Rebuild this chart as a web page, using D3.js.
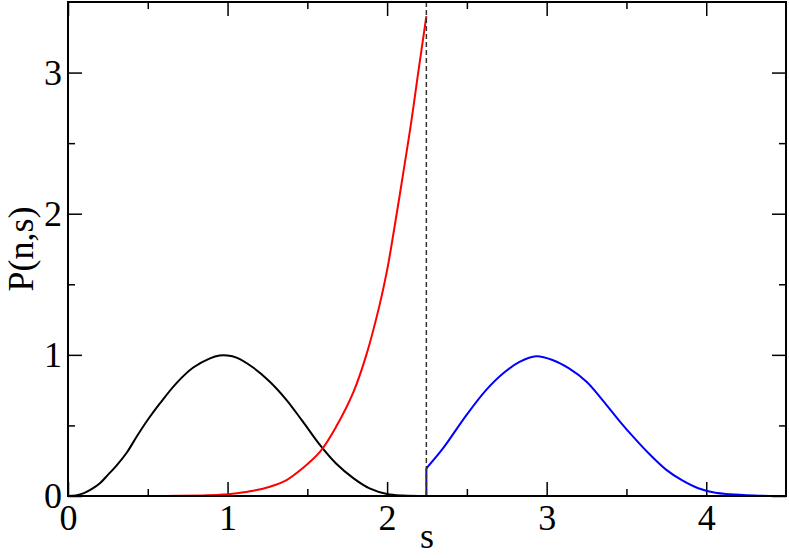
<!DOCTYPE html>
<html>
<head>
<meta charset="utf-8">
<script src="https://cdn.jsdelivr.net/npm/d3@7"></script>
<style>
  body { margin: 0; background: #fff; }
  svg text { font-family: "Liberation Serif", "Times New Roman", serif; }
</style>
</head>
<body>
<div id="chart"></div>
<script>
// values
var blackS = [0, 0.05, 0.1, 0.15, 0.2, 0.25, 0.3, 0.37, 0.43, 0.5, 0.576, 0.68, 0.785, 0.89, 0.95, 1.0, 1.056, 1.16, 1.265, 1.37, 1.47, 1.58, 1.68, 1.79, 1.89, 2.0, 2.1, 2.25];
var blackP = [0, 0.004, 0.02, 0.05, 0.09, 0.15, 0.21, 0.31, 0.42, 0.54, 0.656, 0.80, 0.91, 0.975, 0.995, 0.995, 0.98, 0.91, 0.81, 0.68, 0.53, 0.36, 0.23, 0.125, 0.054, 0.014, 0.003, 0];

var redS = [0.5, 0.7, 0.85, 0.95, 1.06, 1.16, 1.265, 1.37, 1.47, 1.58, 1.68, 1.79, 1.87, 1.95, 2.0, 2.06, 2.1, 2.15, 2.19, 2.246];
var redP = [0, 0.001, 0.004, 0.008, 0.02, 0.037, 0.066, 0.113, 0.196, 0.314, 0.49, 0.74, 1.0, 1.34, 1.6, 2.0, 2.28, 2.64, 2.96, 3.40];

var blueS = [2.246, 2.246, 2.35, 2.497, 2.62, 2.726, 2.83, 2.935, 3.04, 3.14, 3.25, 3.35, 3.45, 3.55, 3.65, 3.75, 3.85, 3.95, 4.05, 4.15, 4.3, 4.4];
var blueP = [0, 0.196, 0.337, 0.573, 0.75, 0.868, 0.95, 0.99, 0.962, 0.904, 0.81, 0.68, 0.54, 0.41, 0.29, 0.185, 0.11, 0.055, 0.025, 0.012, 0.003, 0];

var cutS = 2.246;
var xMajor = [0, 1, 2, 3, 4], xMinor = [0.5, 1.5, 2.5, 3.5];
var yMajor = [0, 1, 2, 3], yMinor = [0.5, 1.5, 2.5];

var margin = {top: 2, right: 3, bottom: 62, left: 68},
    width = 789 - margin.left - margin.right,
    height = 558 - margin.top - margin.bottom;

var x = d3.scaleLinear().domain([0, 4.5]).range([0, width]);
var y = d3.scaleLinear().domain([0, 3.5]).range([height, 0]);

var svg = d3.select("#chart").append("svg")
    .attr("width", 789)
    .attr("height", 558)
  .append("g")
    .attr("transform", "translate(" + margin.left + "," + margin.top + ")");

function styleAxis(g, labels) {
  g.select(".domain").remove();
  g.selectAll(".tick line").attr("stroke", "#000").attr("stroke-width", 1.5);
  if (labels) g.selectAll(".tick text").attr("font-size", 36).attr("fill", "#000");
  else g.selectAll(".tick text").remove();
}

// bottom / left with labels
svg.append("g").attr("transform", "translate(0," + height + ")")
  .call(d3.axisBottom(x).tickValues(xMajor).tickSize(-14).tickPadding(8).tickFormat(d3.format("d")))
  .call(styleAxis, true);
svg.append("g")
  .call(d3.axisLeft(y).tickValues(yMajor).tickSize(-14).tickPadding(6).tickFormat(d3.format("d")))
  .call(styleAxis, true);
// minor ticks
svg.append("g").attr("transform", "translate(0," + height + ")")
  .call(d3.axisBottom(x).tickValues(xMinor).tickSize(-7)).call(styleAxis, false);
svg.append("g")
  .call(d3.axisLeft(y).tickValues(yMinor).tickSize(-7)).call(styleAxis, false);
// top / right mirrors
svg.append("g").call(d3.axisTop(x).tickValues(xMajor).tickSize(-14)).call(styleAxis, false);
svg.append("g").call(d3.axisTop(x).tickValues(xMinor).tickSize(-7)).call(styleAxis, false);
svg.append("g").attr("transform", "translate(" + width + ",0)")
  .call(d3.axisRight(y).tickValues(yMajor).tickSize(-14)).call(styleAxis, false);
svg.append("g").attr("transform", "translate(" + width + ",0)")
  .call(d3.axisRight(y).tickValues(yMinor).tickSize(-7)).call(styleAxis, false);

var line = d3.line()
    .x(function(d) { return x(d[0]); })
    .y(function(d) { return y(d[1]); })
    .curve(d3.curveCatmullRom.alpha(0.5));

function pairs(s, p) { return s.map(function(v, i) { return [v, p[i]]; }); }

svg.append("path").datum(pairs(blackS, blackP))
  .attr("d", line).attr("fill", "none").attr("stroke", "#000").attr("stroke-width", 2);
svg.append("path").datum(pairs(redS, redP))
  .attr("d", line).attr("fill", "none").attr("stroke", "#ff0000").attr("stroke-width", 2);

// blue: vertical jump then curve
var bluePts = pairs(blueS, blueP);
svg.append("path")
  .attr("d", "M" + x(bluePts[0][0]) + "," + y(bluePts[0][1]) + "L" + x(bluePts[1][0]) + "," + y(bluePts[1][1]))
  .attr("fill", "none").attr("stroke", "#0000ff").attr("stroke-width", 2);
svg.append("path").datum(bluePts.slice(1))
  .attr("d", line).attr("fill", "none").attr("stroke", "#0000ff").attr("stroke-width", 2);

// dashed cut line
svg.append("line")
  .attr("x1", x(cutS)).attr("x2", x(cutS))
  .attr("y1", y(3.5)).attr("y2", y(0))
  .attr("stroke", "#333").attr("stroke-width", 1.5)
  .attr("stroke-dasharray", "5,3");

// frame
svg.append("rect").attr("width", width).attr("height", height)
  .attr("fill", "none").attr("stroke", "#000").attr("stroke-width", 2);

// axis titles
svg.append("text")
  .attr("x", width / 2).attr("y", height + 52)
  .attr("text-anchor", "middle").attr("font-size", 36)
  .text("s");
svg.append("text")
  .attr("transform", "translate(" + (33 - margin.left) + "," + (height / 2) + ") rotate(-90)")
  .attr("text-anchor", "middle").attr("font-size", 36)
  .text("P(n,s)");
</script>
</body>
</html>
